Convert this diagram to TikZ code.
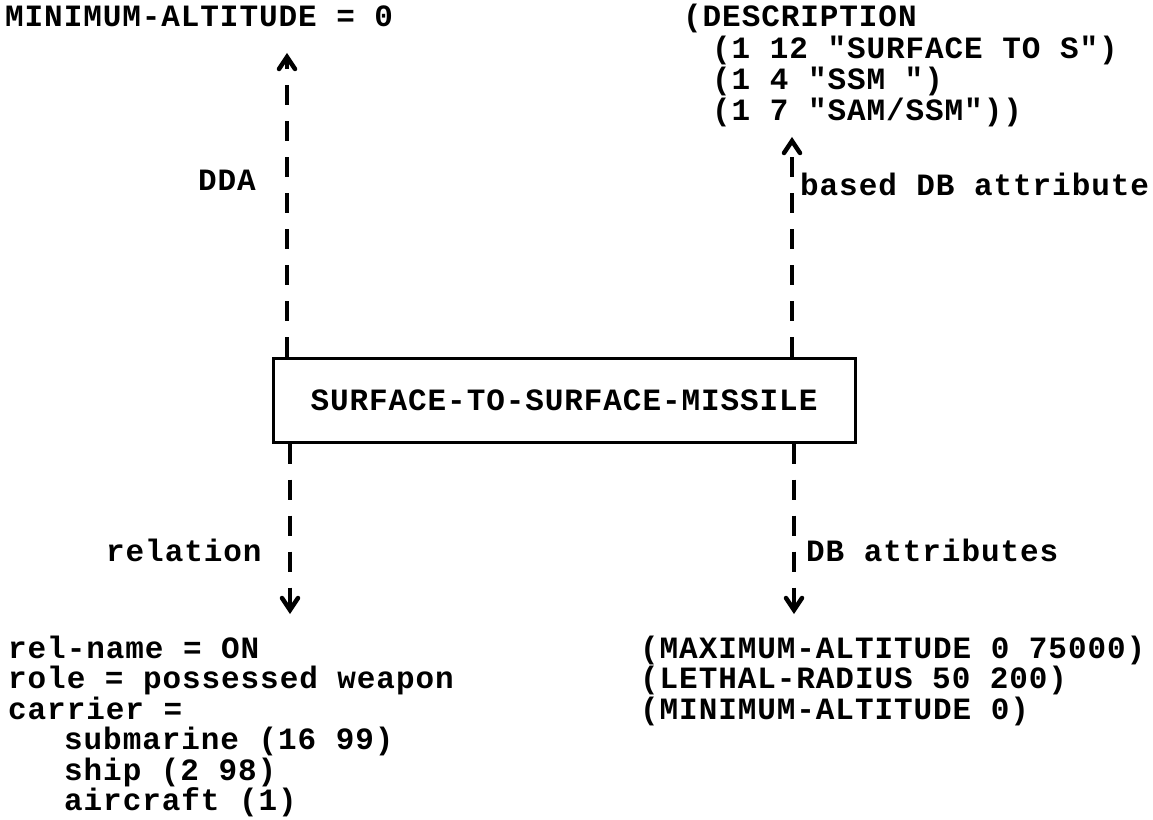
\documentclass[tikz,border=0pt]{standalone}
\usepackage{fontspec}
\setmonofont[LetterSpace=3]{Liberation Mono}
\begin{document}
\begin{tikzpicture}[x=1pt,y=-1pt,
  txt/.style={font=\ttfamily\bfseries\fontsize{31}{31}\selectfont, inner sep=0pt, anchor=base west},
  link/.style={line width=3.5pt, dash pattern=on 20pt off 16pt},
  head/.style={line width=4.5pt, solid, line join=miter, line cap=round},
  boxst/.style={draw, line width=3pt, minimum width=582pt, minimum height=84pt, inner sep=0pt,
    font=\ttfamily\bfseries\fontsize{31}{31}\selectfont}]
\useasboundingbox (0,0) rectangle (1153,819);

% central box
\node[boxst] (ssm) at (564,400) {SURFACE-TO-SURFACE-MISSILE};

% top left
\node[txt] (minalt) at (5,27) {MINIMUM-ALTITUDE = 0};
\node[txt] (dda) at (198,190) {DDA};
\coordinate (tl) at (287,57);
\draw[link] (ssm.north -| tl) -- (tl);
\draw[head] (tl) ++(-8,12) -- (tl) -- ++(8,12);

% top right
\node[txt] (d0) at (683,27) {(DESCRIPTION};
\node[txt] (d1) at (712,58) {(1 12 "SURFACE TO S")};
\node[txt] (d2) at (712,89) {(1 4 "SSM ")};
\node[txt] (d3) at (712,120) {(1 7 "SAM/SSM"))};
\node[txt] (bdb) at (800,195) {based DB attribute};
\coordinate (tr) at (792,141);
\draw[link] (ssm.north -| tr) -- (tr);
\draw[head] (tr) ++(-8,12) -- (tr) -- ++(8,12);

% bottom left
\node[txt] (rel) at (106,561) {relation};
\coordinate (bl) at (290,610);
\draw[link] (ssm.south -| bl) -- (bl);
\draw[head] (bl) ++(-8,-12) -- (bl) -- ++(8,-12);
\node[txt] (r1) at (8,658) {rel-name = ON};
\node[txt] (r2) at (8,688.5) {role = possessed weapon};
\node[txt] (r3) at (8,719) {carrier =};
\node[txt] (r4) at (64,749.5) {submarine (16 99)};
\node[txt] (r5) at (64,780) {ship (2 98)};
\node[txt] (r6) at (64,810.5) {aircraft (1)};

% bottom right
\node[txt] (dba) at (806,561) {DB attributes};
\coordinate (br) at (794,610);
\draw[link] (ssm.south -| br) -- (br);
\draw[head] (br) ++(-8,-12) -- (br) -- ++(8,-12);
\node[txt] (a1) at (640,658) {(MAXIMUM-ALTITUDE 0 75000)};
\node[txt] (a2) at (640,688.5) {(LETHAL-RADIUS 50 200)};
\node[txt] (a3) at (640,719) {(MINIMUM-ALTITUDE 0)};
\end{tikzpicture}
\end{document}
